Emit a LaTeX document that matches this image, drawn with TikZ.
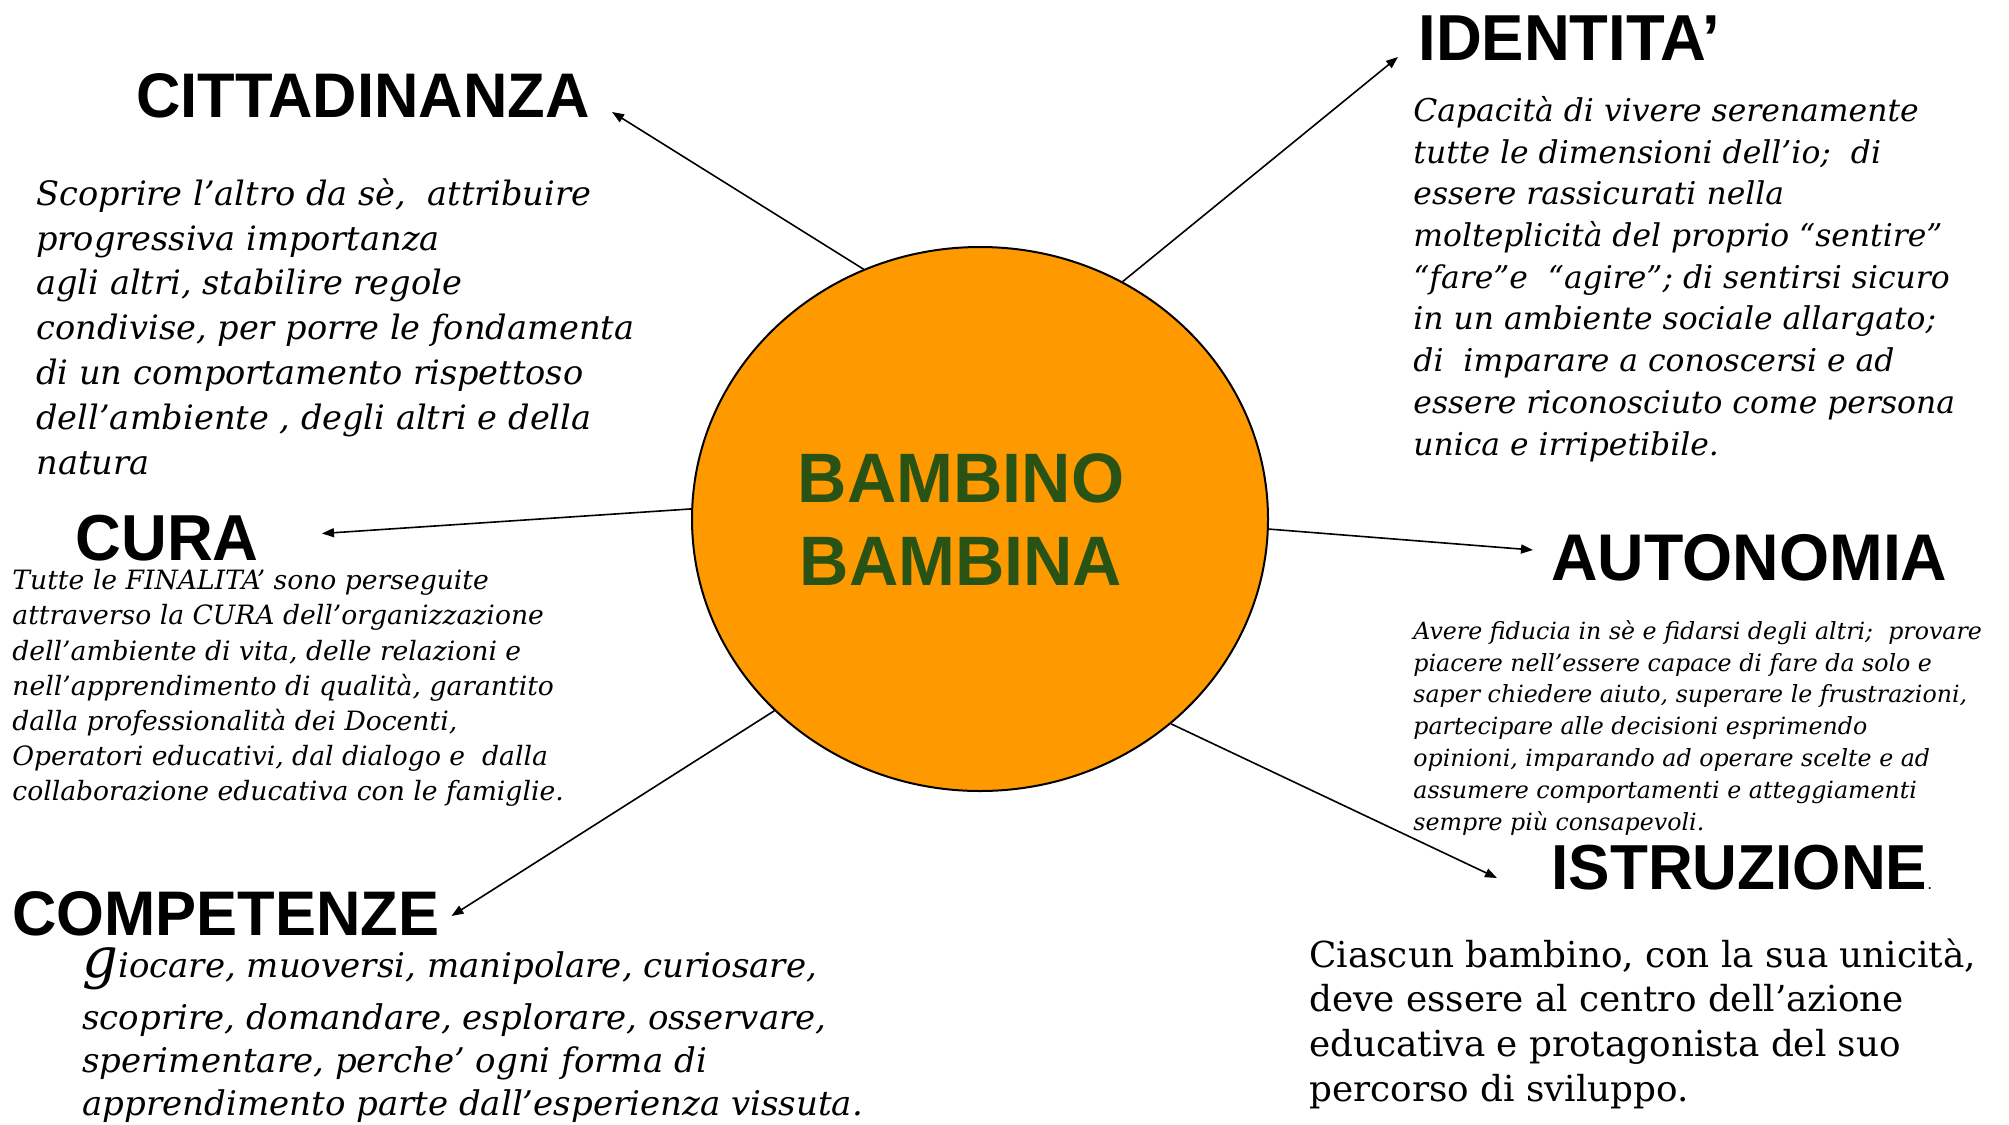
\documentclass[tikz,border=0pt]{standalone}
\usepackage{fontspec}
\setmainfont{DejaVu Serif}
\newfontfamily\headfont{Liberation Sans}[FakeStretch=0.976]
\usetikzlibrary{shapes.geometric,arrows.meta}
\definecolor{orangefill}{RGB}{255,153,0}
\definecolor{kidgreen}{RGB}{41,82,21}
\tikzset{
  heading/.style={anchor=base west, inner sep=0pt, font=\headfont\bfseries\fontsize{#1}{#1}\selectfont},
  bodytext/.style 2 args={anchor=north west, inner sep=0pt, align=left, font=\itshape\fontsize{#1}{#2}\selectfont},
  uprighttext/.style 2 args={anchor=north west, inner sep=0pt, align=left, font=\upshape\fontsize{#1}{#2}\selectfont},
  link/.style={line width=0.8pt, -{Triangle[length=6pt,width=4.5pt]}},
}
\begin{document}
\begin{tikzpicture}[x=0.5pt,y=-0.5pt]
\useasboundingbox (0,0) rectangle (2009,1125);
% central ellipse
\node[ellipse, draw, line width=1pt, fill=orangefill, minimum width=288pt, minimum height=272pt, inner sep=0pt] (kid) at (980,519) {};
\node[inner sep=0pt, align=center, text=kidgreen, font=\headfont\bfseries\fontsize{35}{41.5}\selectfont] (kidtext) at (961,519.5) {BAMBINO\\BAMBINA};
% headings
\node[heading=31.5] (cit) at (136,117) {CITTADINANZA};
\node[heading=32.5] (ide) at (1418,60) {IDENTITA’};
\node[heading=32.5] (cura) at (75,560) {CURA};
\node[heading=31.5] (comp) at (12,935) {COMPETENZE};
\node[heading=33] (auto) at (1551,580) {AUTONOMIA};
\node[heading=31.8] (istr) at (1551,889) {ISTRUZIONE{\mdseries\fontsize{9}{9}\selectfont .}};
% body texts
\node[bodytext={16.8}{22.4}] (citbody) at (36,178) {Scoprire l’altro da sè,\ \ attribuire\\progressiva importanza\\agli altri, stabilire regole\\condivise, per porre le fondamenta\\di un comportamento rispettoso\\dell’ambiente , degli altri e della\\natura};
\node[bodytext={15.7}{20.85}] (idebody) at (1413,96) {Capacità di vivere serenamente\\tutte le dimensioni dell’io;\ \ di\\essere rassicurati nella\\molteplicità del proprio “sentire”\\“fare”e\ \ “agire”; di sentirsi sicuro\\in un ambiente sociale allargato;\\di\ \ imparare a conoscersi e ad\\essere riconosciuto come persona\\unica e irripetibile.};
\node[bodytext={13.3}{17.6}] (curabody) at (12,569) {Tutte le FINALITA’ sono perseguite\\attraverso la CURA dell’organizzazione\\dell’ambiente di vita, delle relazioni e\\nell’apprendimento di qualità, garantito\\dalla professionalità dei Docenti,\\Operatori educativi, dal dialogo e\ \ dalla\\collaborazione educativa con le famiglie.};
\node[bodytext={11.85}{15.9}] (autobody) at (1413,620) {Avere fiducia in sè e fidarsi degli altri;\ \ provare\\piacere nell’essere capace di fare da solo e\\saper chiedere aiuto, superare le frustrazioni,\\partecipare alle decisioni esprimendo\\opinioni, imparando ad operare scelte e ad\\assumere comportamenti e atteggiamenti\\sempre più consapevoli.};
\node[bodytext={17}{21.5}] (compbody) at (82,947) {{\fontsize{28}{28}\selectfont g}iocare, muoversi, manipolare, curiosare,\\[4.5pt]scoprire, domandare, esplorare, osservare,\\sperimentare, perche’ ogni forma di\\apprendimento parte dall’esperienza vissuta.};
\node[uprighttext={17.9}{22.4}] (istrbody) at (1309,938) {Ciascun bambino, con la sua unicità,\\deve essere al centro dell’azione\\educativa e protagonista del suo\\percorso di sviluppo.};
% arrow tips
\coordinate (citTip) at (612,112);
\coordinate (ideTip) at (1398,57);
\coordinate (curaTip) at (322,533.5);
\coordinate (compTip) at (451.5,916);
\coordinate (autoTip) at (1533,550);
\coordinate (istrTip) at (1497,878);
% connectors
\draw[link] (kid.115.3) -- (citTip);
\draw[link] (kid.59.1) -- (ideTip);
\draw[link] (kid.178) -- (curaTip);
\draw[link] (kid.223.2) -- (compTip);
\draw[link] (kid.-2.9) -- (autoTip);
\draw[link] (kid.-47.6) -- (istrTip);
\end{tikzpicture}
\end{document}
